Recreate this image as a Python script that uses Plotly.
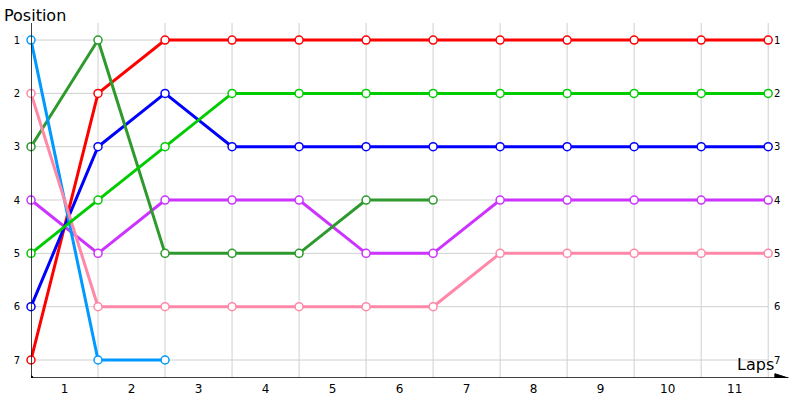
import plotly.graph_objects as go

laps = list(range(12))
red = [7, 2, 1, 1, 1, 1, 1, 1, 1, 1, 1, 1]
lime = [5, 4, 3, 2, 2, 2, 2, 2, 2, 2, 2, 2]
blue = [6, 3, 2, 3, 3, 3, 3, 3, 3, 3, 3, 3]
purple = [4, 5, 4, 4, 4, 5, 5, 4, 4, 4, 4, 4]
pink = [2, 6, 6, 6, 6, 6, 6, 5, 5, 5, 5, 5]
dark_green = [3, 1, 5, 5, 5, 4, 4]
light_blue = [1, 7, 7]

lap_labels = [str(i) for i in range(1, 12)]
positions = [1, 2, 3, 4, 5, 6, 7]

series = [
    (purple, "#cc33ff"),
    (red, "#ff0000"),
    (blue, "#0000ff"),
    (dark_green, "#2e9a2e"),
    (light_blue, "#0099ff"),
    (pink, "#ff88a8"),
    (lime, "#00cc00"),
]

fig = go.Figure()
for vals, col in series:
    fig.add_trace(go.Scatter(
        x=laps[:len(vals)], y=vals, mode="lines+markers",
        line=dict(color=col, width=3),
        marker=dict(size=8, color="white", line=dict(color=col, width=1.5)),
        showlegend=False, cliponaxis=False,
    ))

y_top, y_bot = 0.68, 7.3375
x_max = 11.4

shapes = []
for i in range(1, 12):
    shapes.append(dict(type="line", x0=i, x1=i, y0=y_top, y1=y_bot,
                       line=dict(color="#d0d0d0", width=1), layer="below"))
for p in positions:
    shapes.append(dict(type="line", x0=0, x1=11, y0=p, y1=p,
                       line=dict(color="#d0d0d0", width=1), layer="below"))
# axes
shapes.append(dict(type="line", x0=0, x1=x_max - 0.1, y0=y_bot, y1=y_bot,
                   line=dict(color="black", width=1.5)))
shapes.append(dict(type="line", x0=0, x1=0, y0=y_bot, y1=y_top - 0.1,
                   line=dict(color="black", width=1.5)))
shapes.append(dict(type="path", path=f"M {x_max - 0.3},{y_bot - 0.08} L {x_max - 0.1},{y_bot} L {x_max - 0.3},{y_bot + 0.08} Z",
                   fillcolor="black", line=dict(color="black", width=1)))
shapes.append(dict(type="circle", x0=-0.03, x1=0.03, y0=y_top - 0.14, y1=y_top - 0.08,
                   fillcolor="black", line=dict(color="black", width=1)))
shapes.append(dict(type="circle", x0=-0.03, x1=0.03, y0=y_bot - 0.04, y1=y_bot + 0.04,
                   fillcolor="black", line=dict(color="black", width=1)))

fig.update_layout(
    width=800, height=400,
    margin=dict(l=31, r=5, t=23, b=22, autoexpand=False),
    plot_bgcolor="white", paper_bgcolor="white",
    font=dict(family="DejaVu Sans", color="black"),
    shapes=shapes,
    xaxis=dict(range=[0, x_max], showgrid=False, zeroline=False, showline=False,
               automargin=False,
               tickvals=[i + 0.5 for i in range(11)], ticktext=lap_labels,
               tickfont=dict(size=12), ticklabelstandoff=2),
    yaxis=dict(range=[y_bot, y_top], showgrid=False, zeroline=False, showline=False,
               automargin=False,
               tickvals=positions, ticktext=[str(p) for p in positions],
               tickfont=dict(size=10), ticklabelstandoff=10),
    yaxis2=dict(range=[y_bot, y_top], overlaying="y", side="right", anchor="free",
                automargin=False,
                position=(768 - 31) / 764, showgrid=False, zeroline=False, showline=False,
                tickvals=positions, ticktext=[str(p) for p in positions],
                tickfont=dict(size=10), ticklabelstandoff=5),
    annotations=[
        dict(text="Position", xref="paper", yref="paper", x=-29 / 764, y=1 + 8 / 355,
             xanchor="left", yanchor="middle", showarrow=False, font=dict(size=16)),
        dict(text="Laps", x=11.12, y=7.08, xanchor="right", yanchor="middle",
             showarrow=False, font=dict(size=16)),
    ],
)
fig.add_trace(go.Scatter(x=[None], y=[None], yaxis="y2", showlegend=False))

fig.write_html("out.html", config={"displayModeBar": False},
               post_script="document.body.style.margin='0';")
